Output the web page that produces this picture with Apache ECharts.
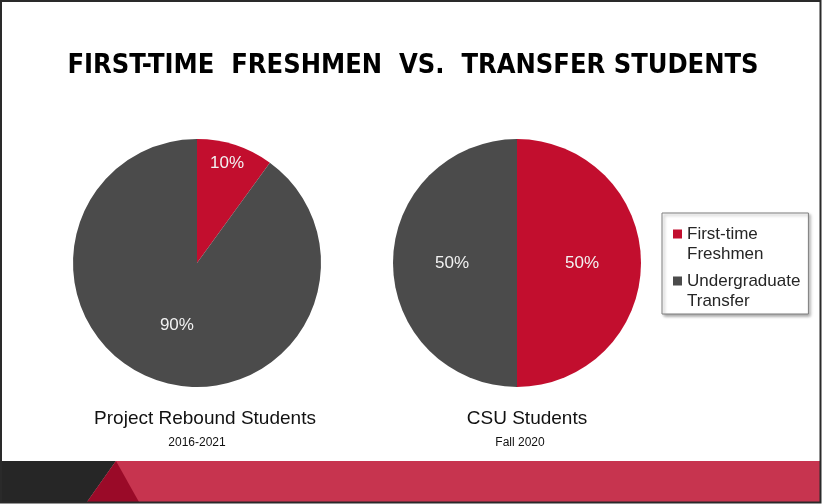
<!DOCTYPE html>
<html>
<head>
<meta charset="utf-8">
<script src="https://cdn.jsdelivr.net/npm/echarts@6/dist/echarts.min.js"></script>
<style>
  html, body { margin: 0; padding: 0; background: #fff; }
  #main { width: 822px; height: 504px; }
</style>
</head>
<body>
<div id="main"></div>
<script>
// data
const categories = ['First-time Freshmen', 'Undergraduate Transfer'];
const reboundValues = [10, 90];
const csuValues = [50, 50];
const pieTitles = ['Project Rebound Students', 'CSU Students'];
const pieSubtitles = ['2016-2021', 'Fall 2020'];

const RED = '#C20E2E';
const GRAY = '#4B4B4B';
const bodyFont = "'Liberation Sans', Arial, sans-serif";

const chart = echarts.init(document.getElementById('main'), null, { renderer: 'canvas' });

function toItems(values) {
  return values.map(function (v, i) {
    return { value: v, name: categories[i] };
  });
}

function pieSeries(values, cx, layoutFn) {
  return {
    type: 'pie',
    center: [cx, 263],
    radius: 124,
    startAngle: 90,
    clockwise: true,
    avoidLabelOverlap: false,
    silent: true,
    data: toItems(values),
    itemStyle: { borderWidth: 0 },
    label: {
      show: true,
      position: 'inside',
      formatter: '{c}%',
      color: '#F2F2F2',
      fontSize: 17,
      fontFamily: bodyFont
    },
    labelLine: { show: false },
    labelLayout: layoutFn
  };
}

function captionTitle(text, x, top, size) {
  return {
    text: text,
    left: x,
    top: top,
    textAlign: 'center',
    textStyle: { fontFamily: bodyFont, fontSize: size, fontWeight: 'normal', color: '#111' }
  };
}

let option = {
  animation: false,
  color: [RED, GRAY],
  title: [
    {
      text: 'FIRST-TIME  FRESHMEN  VS.  TRANSFER STUDENTS',
      left: 408,
      top: 47,
      textAlign: 'center',
      textStyle: {
        fontFamily: "'DejaVu Sans Condensed', 'Liberation Sans', sans-serif",
        fontWeight: 'bold',
        fontSize: 27,
        color: '#000'
      }
    },
    captionTitle(pieTitles[0], 200, 404, 19),
    captionTitle(pieTitles[1], 522, 404, 19),
    captionTitle(pieSubtitles[0], 192, 432, 12),
    captionTitle(pieSubtitles[1], 515, 432, 12)
  ],
  legend: {
    orient: 'vertical',
    left: 662,
    top: 213,
    padding: [11, 8, 3, 11],
    itemGap: 7,
    itemWidth: 9,
    itemHeight: 29,
    itemTextGap: 5,
    icon: 'path://M0,0h9v9h-9z M0,29h9',
    data: categories,
    formatter: function (name) {
      return name.replace(' ', '\n');
    },
    textStyle: {
      fontFamily: bodyFont,
      fontSize: 17,
      lineHeight: 20,
      color: '#262626'
    },
    backgroundColor: '#fff',
    borderColor: '#7F7F7F',
    borderWidth: 1,
    borderRadius: 0,
    shadowBlur: 3,
    shadowColor: 'rgba(0,0,0,0.35)',
    shadowOffsetX: 2,
    shadowOffsetY: 2,
    selectedMode: false
  },
  graphic: [
    // bottom decorative band
    {
      type: 'polygon',
      z: -1,
      shape: { points: [[116, 461], [820, 461], [820, 502], [87, 502]] },
      style: { fill: '#C7344F' }
    },
    {
      type: 'polygon',
      z: -1,
      shape: { points: [[2, 461], [116, 461], [87, 502], [2, 502]] },
      style: { fill: '#262626' }
    },
    {
      type: 'polygon',
      z: -1,
      shape: { points: [[116, 461], [139, 502], [87, 502]] },
      style: { fill: '#9A0A28' }
    },
    // slide frame
    {
      type: 'rect',
      z: 10,
      shape: { x: 1, y: 1, width: 819.5, height: 501.5 },
      style: { fill: 'none', stroke: '#2A2A2A', lineWidth: 2 }
    }
  ],
  series: [
    pieSeries(reboundValues, 197, function (p) {
      // first slice's label sits further out, as in the slide
      return p.dataIndex === 0 ? { dx: 10, dy: -38 } : {};
    }),
    pieSeries(csuValues, 517, null)
  ]
};

chart.setOption(option);
</script>
</body>
</html>
